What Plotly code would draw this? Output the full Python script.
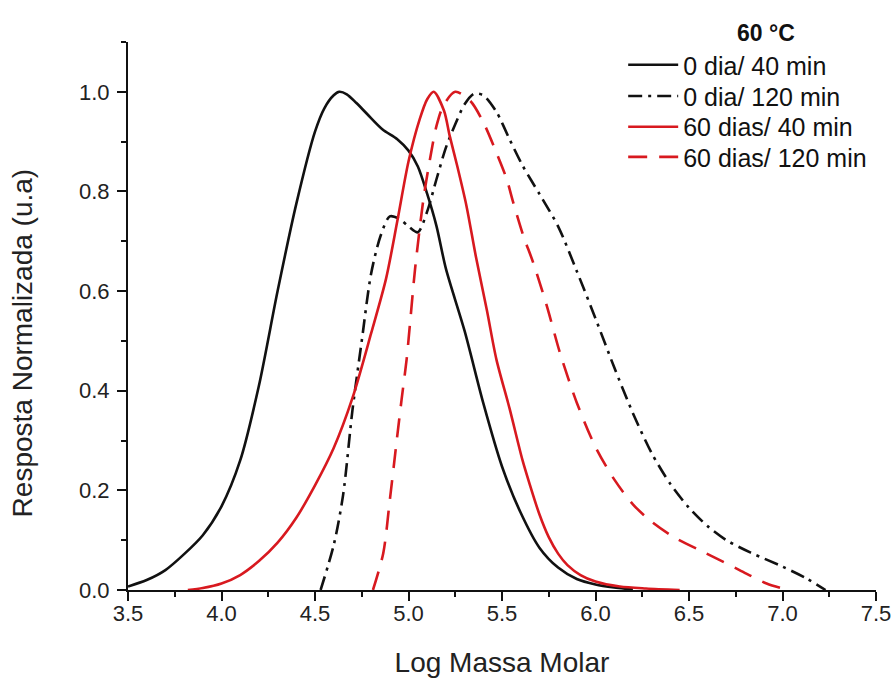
import plotly.graph_objects as go

# Molar-mass distributions at 60 °C (normalized detector response)
x_0d_40 = [3.50, 3.60, 3.70, 3.80, 3.90, 4.00, 4.10, 4.20, 4.30, 4.40, 4.50, 4.55,
           4.60, 4.63, 4.67, 4.72, 4.78, 4.86, 4.94, 5.00, 5.05, 5.10, 5.15, 5.20,
           5.30, 5.40, 5.50, 5.60, 5.70, 5.80, 5.90, 6.00, 6.10, 6.20]
y_0d_40 = [0.007, 0.020, 0.040, 0.072, 0.110, 0.168, 0.260, 0.410, 0.600, 0.775, 0.920, 0.967,
           0.993, 1.000, 0.995, 0.978, 0.955, 0.925, 0.905, 0.882, 0.850, 0.795, 0.730, 0.645,
           0.520, 0.375, 0.248, 0.155, 0.085, 0.045, 0.022, 0.011, 0.005, 0.001]

x_0d_120 = [4.53, 4.60, 4.65, 4.70, 4.75, 4.80, 4.85, 4.90, 4.95, 5.00, 5.05, 5.10,
            5.15, 5.20, 5.25, 5.30, 5.35, 5.40, 5.47, 5.54, 5.61, 5.70, 5.80, 5.90,
            6.00, 6.10, 6.20, 6.30, 6.40, 6.50, 6.60, 6.70, 6.83, 7.00, 7.13, 7.23]
y_0d_120 = [0.000, 0.090, 0.190, 0.360, 0.500, 0.635, 0.710, 0.750, 0.745, 0.730, 0.718, 0.760,
            0.825, 0.888, 0.935, 0.975, 0.996, 0.993, 0.960, 0.905, 0.852, 0.795, 0.730, 0.640,
            0.545, 0.447, 0.355, 0.275, 0.213, 0.165, 0.128, 0.100, 0.075, 0.047, 0.023, 0.000]

x_60d_40 = [3.82, 3.90, 4.00, 4.10, 4.20, 4.30, 4.40, 4.50, 4.60, 4.70, 4.80, 4.88,
            4.94, 5.00, 5.06, 5.10, 5.135, 5.19, 5.22, 5.26, 5.31, 5.36, 5.42, 5.47,
            5.54, 5.61, 5.65, 5.70, 5.75, 5.80, 5.85, 5.92, 6.00, 6.13, 6.27, 6.45]
y_60d_40 = [0.000, 0.004, 0.013, 0.030, 0.058, 0.095, 0.145, 0.210, 0.285, 0.385, 0.515, 0.625,
            0.740, 0.860, 0.945, 0.985, 1.000, 0.962, 0.912, 0.852, 0.771, 0.670, 0.560, 0.463,
            0.365, 0.260, 0.210, 0.152, 0.106, 0.073, 0.050, 0.030, 0.017, 0.007, 0.003, 0.000]

x_60d_120 = [4.81, 4.865, 4.90, 4.937, 4.963, 4.99, 5.01, 5.035, 5.08, 5.115, 5.15, 5.186,
             5.25, 5.33, 5.40, 5.47, 5.525, 5.56, 5.614, 5.667, 5.74, 5.81, 5.90, 6.00,
             6.10, 6.20, 6.30, 6.42, 6.59, 6.77, 6.915, 7.03]
y_60d_120 = [0.000, 0.074, 0.180, 0.300, 0.382, 0.463, 0.543, 0.644, 0.785, 0.865, 0.932, 0.972,
             1.000, 0.982, 0.939, 0.878, 0.825, 0.778, 0.711, 0.657, 0.570, 0.476, 0.376, 0.287,
             0.222, 0.172, 0.137, 0.106, 0.074, 0.040, 0.013, 0.000]

series_names = ["0 dia/ 40 min", "0 dia/ 120 min", "60 dias/ 40 min", "60 dias/ 120 min"]
legend_title = "60 °C"
x_title = "Log Massa Molar"
y_title = "Resposta Normalizada (u.a)"
x_ticks = [3.5, 4.0, 4.5, 5.0, 5.5, 6.0, 6.5, 7.0, 7.5]
y_ticks = [0.0, 0.2, 0.4, 0.6, 0.8, 1.0]

BLACK = "#111111"
TEXT = "#222222"
RED = "#D8191F"
FONT = "Liberation Sans, Arial, sans-serif"

styles = [
    dict(color=BLACK, dash="solid"),
    dict(color=BLACK, dash="14px,6px,3px,6px"),
    dict(color=RED, dash="solid"),
    dict(color=RED, dash="19px,12px"),
]
xs = [x_0d_40, x_0d_120, x_60d_40, x_60d_120]
ys = [y_0d_40, y_0d_120, y_60d_40, y_60d_120]
legend_ids = ["legend", "legend2", "legend3", "legend4"]

fig = go.Figure()
for name, xv, yv, st, lg in zip(series_names, xs, ys, styles, legend_ids):
    fig.add_trace(go.Scatter(
        x=xv, y=yv, name=name, mode="lines", legend=lg, showlegend=True,
        line=dict(color=st["color"], dash=st["dash"], width=2.6,
                  shape="spline", smoothing=0.8),
    ))

axis_common = dict(
    showgrid=False, zeroline=False, showline=True, linecolor=BLACK, linewidth=2,
    ticks="outside", ticklen=9, tickwidth=2, tickcolor=BLACK,
    tickfont=dict(family=FONT, size=22, color=TEXT),
    minor=dict(ticks="outside", ticklen=5, tickwidth=2, tickcolor=BLACK),
    mirror=False, automargin=False,
)

fig.update_xaxes(
    range=[3.5, 7.5], tickvals=x_ticks, tickformat=".1f",
    minor_dtick=0.25, ticklabelstandoff=-6,
    title=dict(text=x_title, font=dict(family=FONT, size=28, color=TEXT),
               standoff=27),
    **axis_common,
)
fig.update_yaxes(
    range=[0, 1.1], tickvals=y_ticks, tickformat=".1f",
    minor_dtick=0.1, ticklabelstandoff=3,
    **axis_common,
)

# one legend box per series so the rows can sit at a fixed spacing
row_y = [0.958, 0.901, 0.845, 0.790]
legend_layout = {}
for lg, yy in zip(legend_ids, row_y):
    legend_layout[lg] = dict(
        x=0.662, y=yy, xanchor="left", yanchor="middle",
        font=dict(family=FONT, size=25, color=BLACK),
        itemwidth=50, bgcolor="rgba(0,0,0,0)", borderwidth=0,
    )

fig.update_layout(
    width=894, height=679,
    margin=dict(l=128, r=18, t=42, b=89),
    paper_bgcolor="white", plot_bgcolor="white",
    font=dict(family=FONT, color=BLACK),
    showlegend=True,
    **legend_layout,
)

# y-axis title, set slightly below the plot centre
fig.add_annotation(
    text=y_title, xref="paper", yref="paper", textangle=-90,
    x=-0.1417, y=0.45, xanchor="center", yanchor="middle", showarrow=False,
    font=dict(family=FONT, size=28, color=TEXT),
)
# legend heading
fig.add_annotation(
    text=f"<b>{legend_title}</b>", xref="paper", yref="paper",
    x=0.853, y=1.016, xanchor="center", yanchor="middle", showarrow=False,
    font=dict(family=FONT, size=23, color=BLACK),
)

fig.write_html("out.html")
